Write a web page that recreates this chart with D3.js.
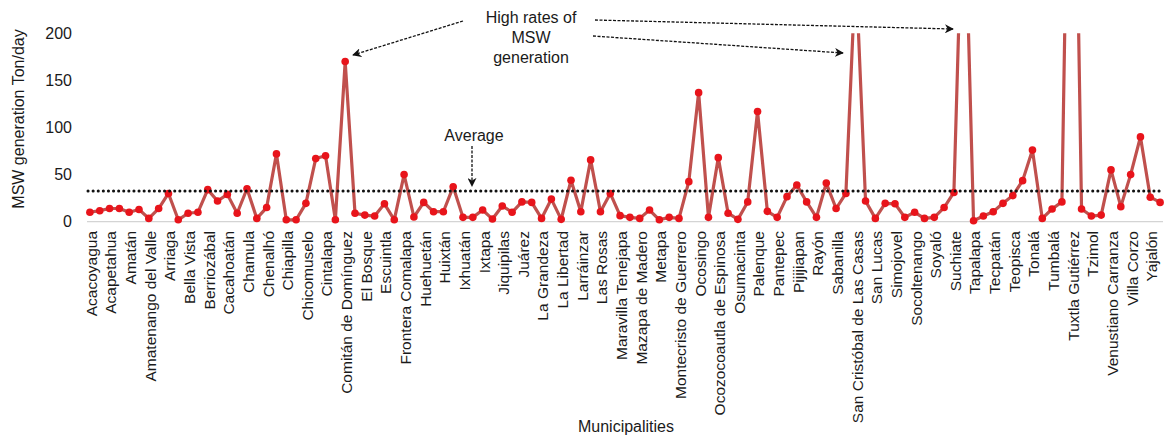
<!DOCTYPE html>
<html>
<head>
<meta charset="UTF-8">
<title>MSW generation</title>
<script src="https://cdn.jsdelivr.net/npm/d3@7"></script>
<style>
  body { margin: 0; background: #fff; }
  text { font-family: "Liberation Sans", Arial, sans-serif; fill: #1a1a1a; }
</style>
</head>
<body>
<script>
// municipalities in chart order (Excel only prints every second label)
var municipalities = [
  "Acacoyagua","Acala","Acapetahua","Altamirano","Amatán","Amatenango de la Frontera",
  "Amatenango del Valle","Ángel Albino Corzo","Arriaga","Bejucal de Ocampo","Bella Vista",
  "Benemérito de las Américas","Berriozábal","Bochil","Cacahoatán","Catazajá","Chamula","Chanal",
  "Chenalhó","Chiapa de Corzo","Chiapilla","Chicoasén","Chicomuselo","Chilón","Cintalapa","Coapilla",
  "Comitán de Domínguez","Copainalá","El Bosque","El Porvenir","Escuintla","Francisco León",
  "Frontera Comalapa","Frontera Hidalgo","Huehuetán","Huitiupán","Huixtán","Huixtla","Ixhuatán",
  "Ixtacomitán","Ixtapa","Ixtapangajoya","Jiquipilas","Jitotol","Juárez","La Concordia","La Grandeza",
  "La Independencia","La Libertad","La Trinitaria","Larráinzar","Las Margaritas","Las Rosas","Mapastepec",
  "Maravilla Tenejapa","Marqués de Comillas","Mazapa de Madero","Mazatán","Metapa","Mitontic",
  "Montecristo de Guerrero","Motozintla","Ocosingo","Ocotepec","Ocozocoautla de Espinosa","Ostuacán",
  "Osumacinta","Oxchuc","Palenque","Pantelhó","Pantepec","Pichucalco","Pijijiapan",
  "Pueblo Nuevo Solistahuacán","Rayón","Reforma","Sabanilla","Salto de Agua","San Cristóbal de Las Casas",
  "San Fernando","San Lucas","Siltepec","Simojovel","Sitalá","Socoltenango","Solosuchiapa","Soyaló",
  "Suchiapa","Suchiate","Tapachula","Tapalapa","Tapilula","Tecpatán","Tenejapa","Teopisca","Tila",
  "Tonalá","Totolapa","Tumbalá","Tuxtla Chico","Tuxtla Gutiérrez","Tuzantán","Tzimol","Unión Juárez",
  "Venustiano Carranza","Villa Comaltitlán","Villa Corzo","Villaflores","Yajalón","Zinacantán"
];

// MSW generation, ton/day (three big cities run off the top of the chart)
var msw = [
  10, 11.7, 14, 14, 10, 13, 3.5, 14, 30, 2,
  9, 10, 34, 22, 29, 9, 35, 3.5, 15, 72,
  2, 2, 19.5, 67, 70, 2, 170, 9, 7, 6,
  19, 2, 50, 5, 20.5, 10.6, 10.6, 37, 4.6, 4.6,
  12.4, 2.8, 16.7, 10, 21, 20.5, 3.5, 24, 2.5, 44,
  10.6, 65.6, 10.6, 30, 6.4, 4.6, 3.5, 12.4, 2, 4.6,
  3.5, 42.5, 137, 4.6, 68, 9, 2.5, 21, 117, 11,
  4.6, 26.6, 39, 21, 4.6, 41, 14, 30, 270, 22,
  3.5, 19.5, 19, 4.6, 10, 3.5, 4.6, 15, 31, 390,
  1, 6, 10.6, 19.5, 27.7, 43.6, 76, 3.5, 13.5, 21,
  650, 13.5, 6, 7, 55, 16, 50, 90, 26, 20.5
];

var average = 32.7;
var yTicks = [0, 50, 100, 150, 200];

var w = 1165, h = 437;
var mLeft = 85, mRight = 1165, mTop = 33.3, mBottom = 221.7;

var svg = d3.select("body").append("svg")
    .attr("width", w)
    .attr("height", h);

var defs = svg.append("defs");
defs.append("clipPath").attr("id", "plotclip")
  .append("rect")
    .attr("x", mLeft - 10).attr("y", mTop)
    .attr("width", mRight - mLeft + 20).attr("height", mBottom - mTop + 10);

defs.append("marker")
    .attr("id", "head")
    .attr("viewBox", "0 0 10 10")
    .attr("refX", 9).attr("refY", 5)
    .attr("markerWidth", 9).attr("markerHeight", 9)
    .attr("markerUnits", "userSpaceOnUse")
    .attr("orient", "auto")
  .append("path")
    .attr("d", "M0,0 L10,5 L0,10 L3,5 Z")
    .attr("fill", "#111");

var xScale = d3.scaleBand()
    .domain(municipalities)
    .range([mLeft, mRight]);

var yScale = d3.scaleLinear()
    .domain([0, 200])
    .range([mBottom, mTop]);

function cx(d) { return xScale(d) + xScale.bandwidth() / 2; }

// x axis line
svg.append("line")
    .attr("x1", mLeft + 2).attr("x2", mRight - 2)
    .attr("y1", yScale(0)).attr("y2", yScale(0))
    .attr("stroke", "#d4d4d4")
    .attr("stroke-width", 1.2);

// y tick labels
svg.selectAll(".ytick")
    .data(yTicks)
    .enter()
      .append("text")
      .attr("class", "ytick")
      .attr("x", 72)
      .attr("y", function(d) { return yScale(d); })
      .attr("dy", "0.35em")
      .attr("text-anchor", "end")
      .style("font-size", "16px")
      .text(function(d) { return d; });

// x labels, every second one
svg.selectAll(".xlab")
    .data(municipalities.filter(function(d, i) { return i % 2 == 0; }))
    .enter()
      .append("text")
      .attr("class", "xlab")
      .attr("transform", function(d) { return "translate(" + (cx(d) + 1.5) + ",231) rotate(-90)"; })
      .attr("dy", "0.35em")
      .attr("text-anchor", "end")
      .style("font-size", "15.5px")
      .text(function(d) { return d; });

// axis titles
svg.append("text")
    .attr("transform", "translate(18,119) rotate(-90)")
    .attr("dy", "0.35em")
    .attr("text-anchor", "middle")
    .style("font-size", "16px")
    .text("MSW generation Ton/day");

svg.append("text")
    .attr("x", 626).attr("y", 432)
    .attr("text-anchor", "middle")
    .style("font-size", "16px")
    .text("Municipalities");

// series
var pts = municipalities.map(function(m, i) { return { name: m, v: msw[i] }; });

var line = d3.line()
    .x(function(d) { return cx(d.name); })
    .y(function(d) { return yScale(d.v); });

svg.append("path")
    .datum(pts)
    .attr("clip-path", "url(#plotclip)")
    .attr("d", line)
    .attr("fill", "none")
    .attr("stroke", "#c0504d")
    .attr("stroke-width", 3.2)
    .attr("stroke-linejoin", "round");

svg.selectAll(".dot")
    .data(pts.filter(function(d) { return d.v <= 200; }))
    .enter()
      .append("circle")
      .attr("class", "dot")
      .attr("cx", function(d) { return cx(d.name); })
      .attr("cy", function(d) { return yScale(d.v); })
      .attr("r", 3.8)
      .attr("fill", "#e8141b");

// average line
svg.append("line")
    .attr("x1", mLeft + 3).attr("x2", mRight - 3)
    .attr("y1", yScale(average)).attr("y2", yScale(average))
    .attr("stroke", "#111")
    .attr("stroke-width", 3)
    .attr("stroke-linecap", "round")
    .attr("stroke-dasharray", "0.1 5");

// annotations
function arrow(x1, y1, x2, y2) {
  svg.append("line")
      .attr("x1", x1).attr("y1", y1)
      .attr("x2", x2).attr("y2", y2)
      .attr("stroke", "#111")
      .attr("stroke-width", 1.3)
      .attr("stroke-dasharray", "3 1.5")
      .attr("marker-end", "url(#head)");
}

var note = svg.append("text")
    .attr("text-anchor", "middle")
    .style("font-size", "16px");
["High rates of", "MSW", "generation"].forEach(function(t, i) {
  note.append("tspan").attr("x", 531).attr("y", 23 + i * 20).text(t);
});

arrow(463, 21, 353, 55);
arrow(595, 20, 953, 29);
arrow(593, 36, 843, 53);

svg.append("text")
    .attr("x", 474).attr("y", 141)
    .attr("text-anchor", "middle")
    .style("font-size", "16px")
    .text("Average");
arrow(472, 146, 472, 186);
</script>
</body>
</html>
